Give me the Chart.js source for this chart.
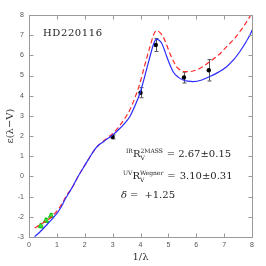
<!DOCTYPE html>
<html>
<head>
<meta charset="utf-8">
<script src="https://cdn.jsdelivr.net/npm/chart.js@4.4.1/dist/chart.umd.min.js"></script>
<style>
  html, body { margin: 0; padding: 0; background: #fff; }
  #wrap { width: 266px; height: 266px; }
</style>
</head>
<body>
<div id="wrap"><canvas id="extChart" width="266" height="266"></canvas></div>
<script>
// Fitted extinction curves
const blueX = [0.2, 0.4, 0.68, 0.85, 1.04, 1.2, 1.28, 1.46, 1.6, 1.76, 1.9, 2.05, 2.2, 2.35, 2.5, 2.59, 2.8, 3.01, 3.2, 3.4, 3.62, 3.8, 3.98, 4.15, 4.34, 4.48, 4.58, 4.66, 4.76, 4.85, 4.94, 5.05, 5.17, 5.35, 5.53, 5.7, 5.89, 6.2, 6.49, 6.8, 7.09, 7.35, 7.56, 7.8, 7.98, 8.0];
const blueY = [-2.98, -2.74, -2.33, -2.08, -1.76, -1.4, -1.17, -0.75, -0.42, 0.0, 0.32, 0.66, 1.0, 1.32, 1.56, 1.65, 1.85, 2.06, 2.3, 2.58, 2.97, 3.5, 4.12, 4.95, 5.94, 6.6, 6.8, 6.75, 6.6, 6.3, 5.94, 5.55, 5.19, 4.92, 4.78, 4.72, 4.7, 4.78, 4.95, 5.17, 5.44, 5.8, 6.18, 6.7, 7.17, 7.26];

const redX = [0.2, 0.4, 0.68, 0.85, 1.04, 1.2, 1.4, 1.5, 1.6, 1.76, 1.9, 2.05, 2.2, 2.35, 2.5, 2.59, 2.8, 3.0, 3.2, 3.4, 3.62, 3.8, 3.98, 4.15, 4.34, 4.48, 4.58, 4.68, 4.81, 4.93, 5.05, 5.17, 5.29, 5.45, 5.59, 5.8, 6.01, 6.25, 6.49, 6.8, 7.09, 7.35, 7.56, 7.8, 7.96];
const redY = [-2.56, -2.38, -2.15, -1.95, -1.65, -1.3, -0.83, -0.65, -0.42, 0.0, 0.32, 0.66, 1.0, 1.32, 1.56, 1.67, 1.9, 2.12, 2.42, 2.8, 3.3, 3.9, 4.62, 5.5, 6.43, 7.05, 7.22, 7.15, 6.93, 6.55, 6.1, 5.75, 5.44, 5.25, 5.19, 5.2, 5.28, 5.45, 5.69, 6.02, 6.43, 6.8, 7.17, 7.65, 8.0];

// Photometric (green) and spectroscopic (black) measurements
const photX = [0.42, 0.61, 0.79];
const photY = [-2.45, -2.18, -1.95];
const photErr = [0.1, 0.1, 0.1];

const specX = [3.0, 4.0, 4.55, 5.56, 6.45];
const specY = [1.96, 4.15, 6.51, 4.9, 5.26];
const specErr = [0.1, 0.25, 0.32, 0.27, 0.53];

const xTicks = [0, 1, 2, 3, 4, 5, 6, 7, 8];
const yTicks = [-3, -2, -1, 0, 1, 2, 3, 4, 5, 6, 7, 8];

const starName = "HD220116";

function toPoints(xs, ys) {
    return xs.map((x, i) => ({ x: x, y: ys[i] }));
}

// error bars, drawn with the chart scales
const errorBars = {
    id: "errorBars",
    beforeDatasetsDraw(chart) {
        const ctx = chart.ctx;
        const xs = chart.scales.x, ys = chart.scales.y;
        chart.data.datasets.forEach((ds) => {
            if (!ds.errors) return;
            ctx.save();
            ctx.strokeStyle = ds.errorColor;
            ctx.lineWidth = 1;
            ds.data.forEach((p, i) => {
                const px = Math.round(xs.getPixelForValue(p.x)) + 0.5;
                const top = ys.getPixelForValue(p.y + ds.errors[i]);
                const bot = ys.getPixelForValue(p.y - ds.errors[i]);
                ctx.beginPath();
                ctx.moveTo(px, top); ctx.lineTo(px, bot);
                ctx.moveTo(px - 2, top); ctx.lineTo(px + 2, top);
                ctx.moveTo(px - 2, bot); ctx.lineTo(px + 2, bot);
                ctx.stroke();
            });
            ctx.restore();
        });
    }
};

// box with inward ticks on all sides, plus the labels inside the plot
const frameAndText = {
    id: "frameAndText",
    afterDraw(chart) {
        const ctx = chart.ctx;
        const a = chart.chartArea;
        const xs = chart.scales.x, ys = chart.scales.y;
        ctx.save();
        ctx.strokeStyle = "#9a9a9a";
        ctx.lineWidth = 1;
        const L = Math.round(a.left) + 0.5, R = Math.round(a.right) + 0.5;
        const T = Math.round(a.top) + 0.5, B = Math.round(a.bottom) + 0.5;
        ctx.strokeRect(L, T, R - L, B - T);
        ctx.beginPath();
        xTicks.forEach((v) => {
            const px = Math.round(xs.getPixelForValue(v)) + 0.5;
            ctx.moveTo(px, B); ctx.lineTo(px, B - 4);
            ctx.moveTo(px, T); ctx.lineTo(px, T + 4);
        });
        yTicks.forEach((v) => {
            const py = Math.round(ys.getPixelForValue(v)) + 0.5;
            ctx.moveTo(L, py); ctx.lineTo(L + 4, py);
            ctx.moveTo(R, py); ctx.lineTo(R - 4, py);
        });
        ctx.stroke();

        ctx.fillStyle = "#222";
        ctx.textBaseline = "alphabetic";
        ctx.font = "10px 'DejaVu Serif'";
        ctx.letterSpacing = "0.6px";
        ctx.fillText(starName, 43, 36);
        ctx.letterSpacing = "0px";

        // pieces: [text, size, baseline shift, no advance, extra gap]
        function drawRow(x, y, pieces) {
            pieces.forEach((p) => {
                ctx.font = p[1] + "px 'DejaVu Serif'";
                ctx.fillText(p[0], x, y + p[2]);
                if (!p[3]) x += ctx.measureText(p[0]).width;
                x += p[4] || 0;
            });
        }
        drawRow(126, 157, [
            ["IR", 6, -4, false, 0],
            ["R", 10, 0, false, 0],
            ["V", 6, 3, true, 0],
            ["2MASS", 6, -4, false, 4],
            ["=", 10, 0, false, 3],
            ["2.67\u00b10.15", 10, 0, false, 0]
        ]);
        drawRow(123, 179, [
            ["UV", 6, -4, false, 0],
            ["R", 10, 0, false, 0],
            ["V", 6, 3, true, 0],
            ["Wegner", 6, -4, false, 4],
            ["=", 10, 0, false, 4],
            ["3.10\u00b10.31", 10, 0, false, 0]
        ]);
        ctx.font = "italic 10px 'DejaVu Serif'";
        ctx.fillText("\u03b4", 121, 198);
        drawRow(130, 198, [
            ["=", 10, 0, false, 6],
            ["+1.25", 10, 0, false, 0]
        ]);
        ctx.restore();
    }
};

new Chart(document.getElementById("extChart"), {
    type: "scatter",
    data: {
        datasets: [
            {
                label: "fit",
                data: toPoints(blueX, blueY),
                showLine: true,
                borderColor: "#2a2aff",
                borderWidth: 1.2,
                pointRadius: 0,
                tension: 0.3,
                cubicInterpolationMode: "monotone"
            },
            {
                label: "model",
                data: toPoints(redX, redY),
                showLine: true,
                borderColor: "#ff2a2a",
                borderWidth: 1.2,
                borderDash: [5, 3],
                pointRadius: 0,
                tension: 0.3,
                cubicInterpolationMode: "monotone"
            },
            {
                label: "phot",
                data: toPoints(photX, photY),
                errors: photErr,
                errorColor: "#22cc22",
                pointStyle: "triangle",
                pointRadius: 3,
                backgroundColor: "#33ee33",
                borderColor: "#22bb22",
                borderWidth: 1
            },
            {
                label: "spec",
                data: toPoints(specX, specY),
                errors: specErr,
                errorColor: "#555",
                pointRadius: 2.2,
                backgroundColor: "#000",
                borderColor: "#000",
                borderWidth: 0
            }
        ]
    },
    options: {
        responsive: false,
        animation: false,
        devicePixelRatio: 1,
        clip: false,
        layout: { padding: { top: 15, right: 14, left: 0, bottom: 0 } },
        plugins: { legend: { display: false }, tooltip: { enabled: false } },
        scales: {
            x: {
                type: "linear",
                min: 0, max: 8,
                afterFit: (s) => { s.height = 29; },
                afterBuildTicks: (s) => { s.ticks = xTicks.map((v) => ({ value: v })); },
                grid: { display: false, drawTicks: false },
                border: { display: false },
                ticks: { padding: 4, color: "#555", font: { family: "'Liberation Sans'", size: 7 } },
                title: { display: true, text: "1/\u03bb", color: "#333", padding: { top: 0, bottom: 3 }, font: { family: "'DejaVu Serif'", size: 10 } }
            },
            y: {
                type: "linear",
                min: -3, max: 8,
                afterFit: (s) => { s.width = 29; },
                afterBuildTicks: (s) => { s.ticks = yTicks.map((v) => ({ value: v })); },
                grid: { display: false, drawTicks: false },
                border: { display: false },
                ticks: { padding: 5, color: "#555", font: { family: "'Liberation Sans'", size: 7 } },
                title: { display: true, text: "\u03b5(\u03bb\u2212V)", color: "#333", padding: { top: 4, bottom: 0 }, font: { family: "'DejaVu Serif'", size: 10 } }
            }
        }
    },
    plugins: [errorBars, frameAndText]
});
</script>
</body>
</html>
